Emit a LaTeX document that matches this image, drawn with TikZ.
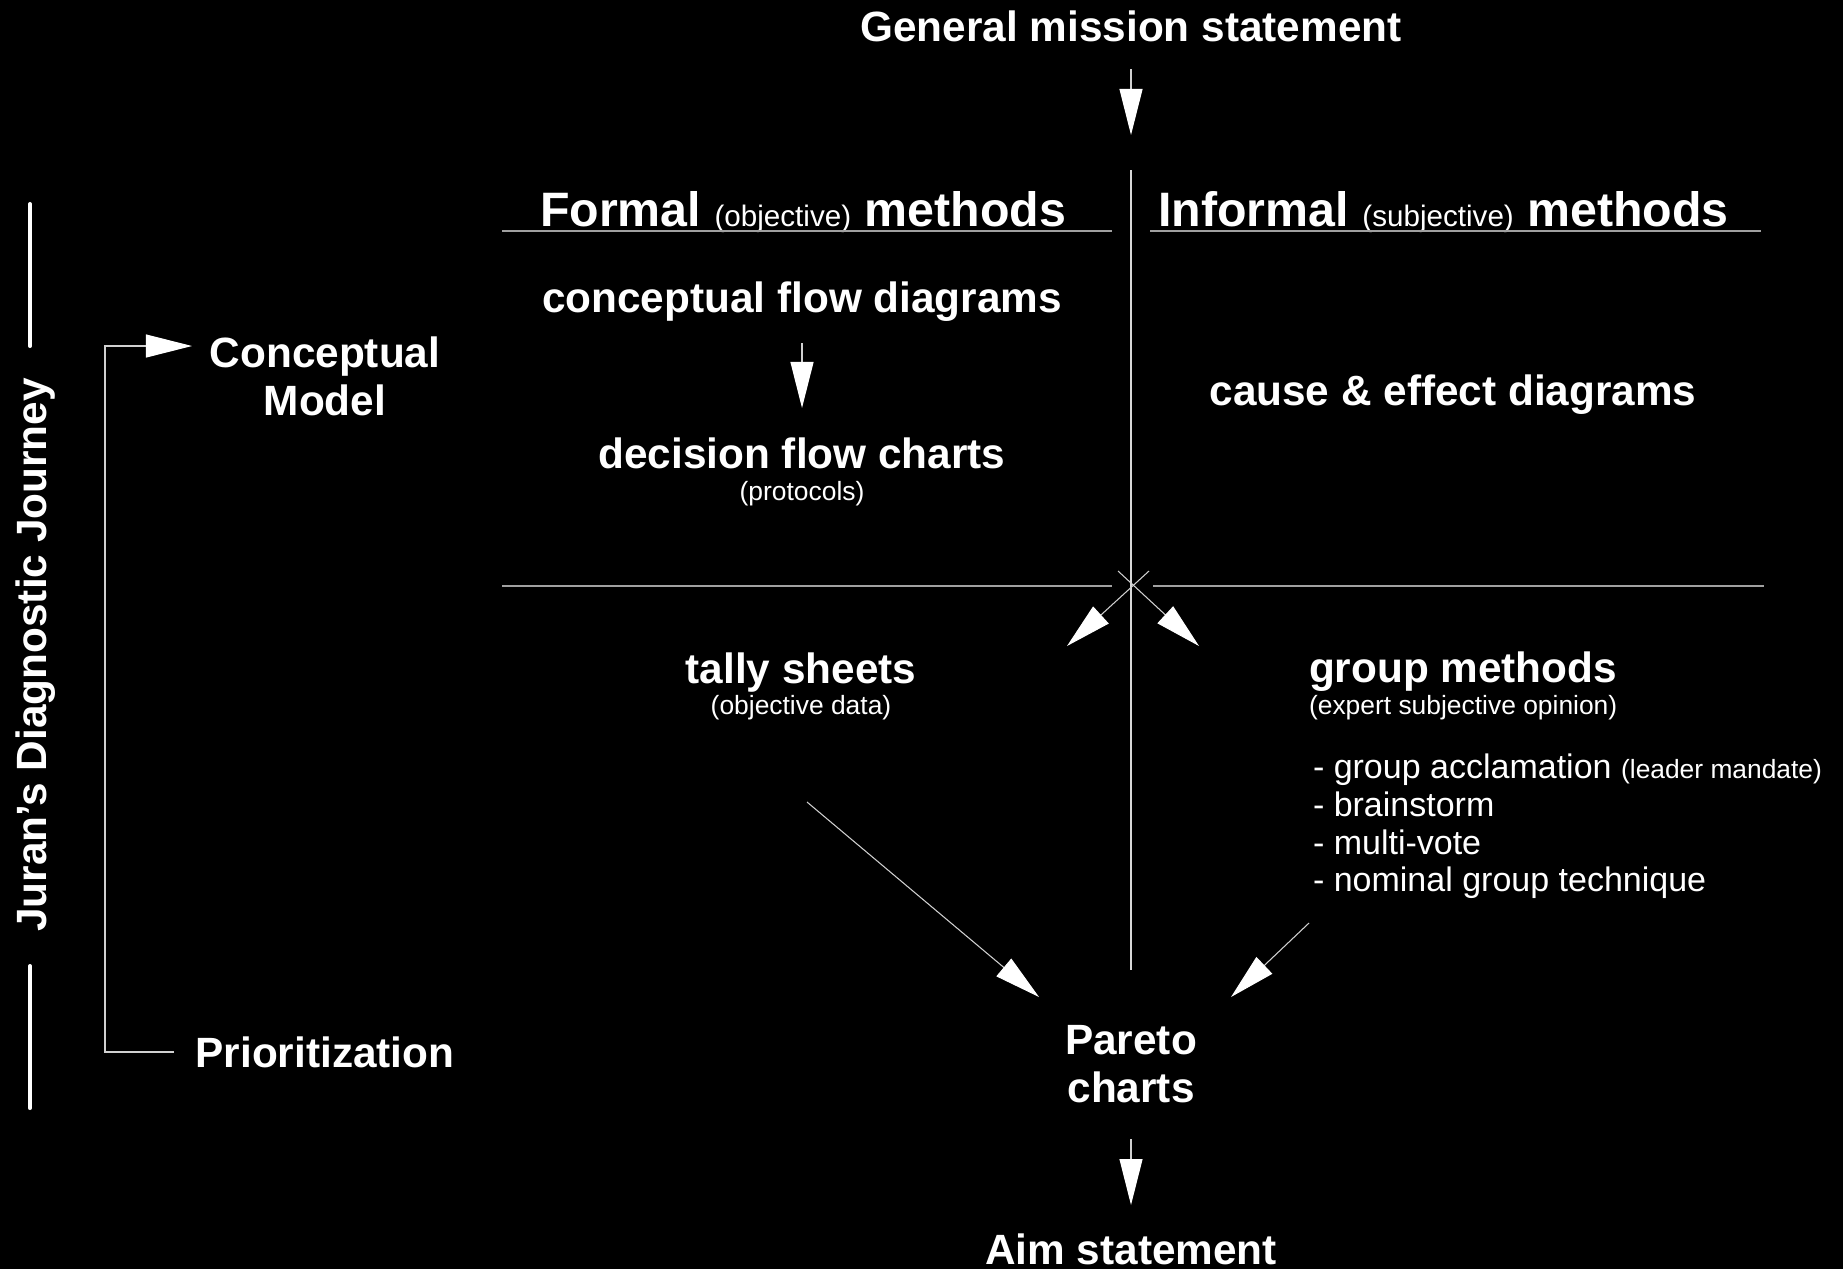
\documentclass[tikz,border=0pt]{standalone}
\usepackage{fontspec}
\setmainfont{Liberation Sans}
\usetikzlibrary{arrows.meta}
\definecolor{hline}{HTML}{A0A0A0}
\definecolor{vline}{HTML}{D8D8D8}
\definecolor{cline}{HTML}{D0D0D0}
\begin{document}
\begin{tikzpicture}[x=0.01cm,y=-0.01cm,
  txt/.style={text=white,inner sep=0pt,outer sep=0pt,anchor=base},
  big/.style={txt,font=\fontsize{12.04}{13.6}\selectfont\bfseries},
  head/.style={txt,font=\fontsize{13.74}{15}\selectfont\bfseries},
  small/.style={txt,font=\fontsize{7.51}{9}\selectfont},
  listtxt/.style={txt,font=\fontsize{9.67}{10.7}\selectfont,anchor=base west},
  conn/.style={draw=cline,line width=0.3pt,-{Triangle[length=0.46cm,width=0.23cm,color=white]}},
  divider/.style={draw=hline,line width=0.55pt},
  axisline/.style={draw=vline,line width=0.4pt},
  sidebar/.style={draw=white,line width=1.15pt,line cap=round}]
\fill[black] (0,0) rectangle (1843,1269);
\useasboundingbox (0,0) rectangle (1843,1269);

% texts
\node[big] (mission) at (1131,41) {General mission statement};
\node[head] (formal) at (803,226) {Formal {\fontsize{8.42}{10}\selectfont\mdseries (objective)} methods};
\node[head] (informal) at (1443.5,226) {Informal {\fontsize{8.42}{10}\selectfont\mdseries (subjective)} methods};
\node[big] (cfd) at (802,312) {conceptual flow diagrams};
\node[big] (dfc) at (802,468) {decision flow charts};
\node[small] (prot) at (802,500) {(protocols)};
\node[big] (cae) at (1453,405) {cause \& effect diagrams};
\node[big] (tally) at (801,683) {tally sheets};
\node[small] (objd) at (801,714) {(objective data)};
\node[big,anchor=base west] (group) at (1309,682) {group methods};
\node[small,anchor=base west] (expert) at (1309,714) {(expert subjective opinion)};
\node[listtxt] (l1) at (1313,778) {- group acclamation {\fontsize{7.5}{8}\selectfont (leader mandate)}};
\node[listtxt] (l2) at (1313,816) {- brainstorm};
\node[listtxt] (l3) at (1313,854) {- multi-vote};
\node[listtxt] (l4) at (1313,891) {- nominal group technique};
\node[big,align=center] (pareto) at (1131,1102) {Pareto\\charts};
\node[big] (aim) at (1131,1264) {Aim statement};
\node[big,align=center] (cmodel) at (325,415) {Conceptual\\Model};
\node[big] (prio) at (325,1067) {Prioritization};
\node[big,rotate=90] (journey) at (46,655) {Juran's Diagnostic Journey};

% sidebar
\draw[sidebar] (30,204) -- (30,346);
\draw[sidebar] (30,966) -- (30,1108);

% dividers
\draw[axisline] (1131,170) -- (1131,970);
\draw[divider] (502,231) -- (1112,231);
\draw[divider] (1150,231) -- (1761,231);
\draw[divider] (502,586) -- (1112,586);
\draw[divider] (1153,586) -- (1764,586);

% connector end points
\coordinate (mS) at (1131,69);   \coordinate (mT) at (1131,135);
\coordinate (cS) at (802,343);   \coordinate (cT) at (802,408);
\coordinate (x1S) at (1149,571); \coordinate (x1T) at (1067,646);
\coordinate (x2S) at (1118,571); \coordinate (x2T) at (1199,646);
\coordinate (tS) at (807,802);   \coordinate (tT) at (1039,997);
\coordinate (gS) at (1309,923);  \coordinate (gT) at (1231,997);
\coordinate (pS) at (1131,1139); \coordinate (pT) at (1131,1205);
\coordinate (bS) at (174,1052);  \coordinate (bC) at (105,1052);
\coordinate (bT) at (192,346);

\draw[conn] (mS) -- (mT);
\draw[conn] (cS) -- (cT);
\draw[conn] (x1S) -- (x1T);
\draw[conn] (x2S) -- (x2T);
\draw[conn] (tS) -- (tT);
\draw[conn] (gS) -- (gT);
\draw[conn] (pS) -- (pT);
\draw[conn] (bS) -- (bC) |- (bT);
\end{tikzpicture}
\end{document}
